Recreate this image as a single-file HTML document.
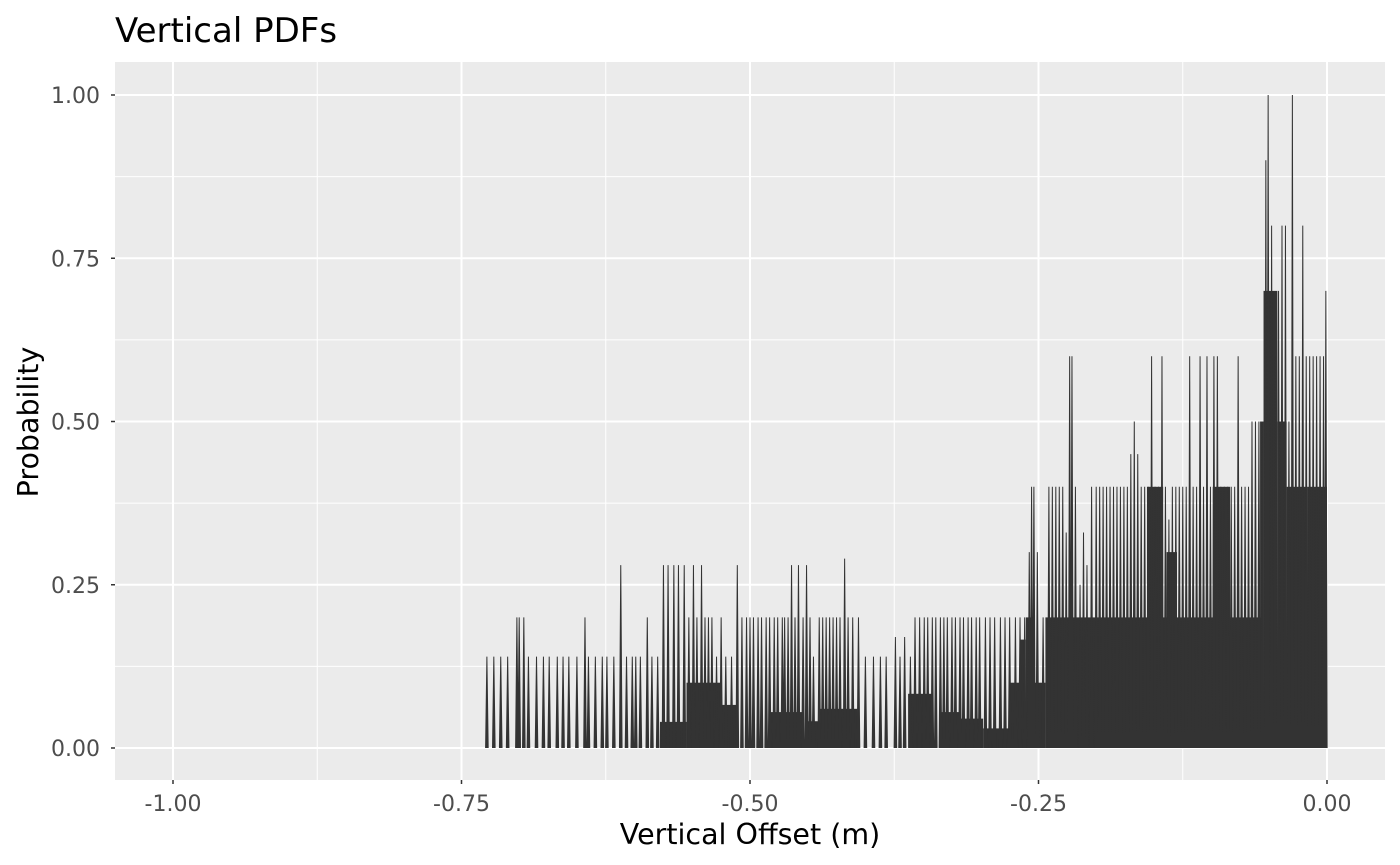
<!DOCTYPE html>
<html><head><meta charset="utf-8"><style>
html,body{margin:0;padding:0;background:#fff;}
svg{display:block;font-family:"DejaVu Sans","Liberation Sans",sans-serif;}
</style></head><body>
<svg id="chart" width="1400" height="865" viewBox="0 0 1400 865">
<text x="115" y="42" font-size="34" fill="#000">Vertical PDFs</text>
<rect x="115" y="62" width="1270" height="718" fill="#ebebeb"/>
<g id="grid"></g>
<g id="marks"></g>
<g id="axes"></g>
<text x="750" y="844" font-size="28.5" text-anchor="middle" fill="#000">Vertical Offset (m)</text>
<text transform="translate(38,422) rotate(-90)" font-size="28.5" text-anchor="middle" fill="#000">Probability</text>
</svg>
<script>
const xTicks = [-1.00, -0.75, -0.50, -0.25, 0.00];
const xTickLabels = ["-1.00", "-0.75", "-0.50", "-0.25", "0.00"];
const yTicks = [0, 0.25, 0.5, 0.75, 1.0];
const yTickLabels = ["0.00", "0.25", "0.50", "0.75", "1.00"];
const floorStart = [-0.578,-0.555,-0.526,-0.524,-0.483,-0.451,-0.441,-0.363,-0.335,-0.318,-0.298,-0.275,-0.266,-0.261,-0.255,-0.244,-0.218,-0.156,-0.139,-0.099,-0.058,-0.055,-0.043,-0.035,-0.017];
const floorEnd   = [-0.555,-0.526,-0.524,-0.511,-0.454,-0.441,-0.407,-0.341,-0.318,-0.298,-0.275,-0.266,-0.261,-0.255,-0.244,-0.218,-0.055,-0.142,-0.130,-0.084,-0.055,-0.043,-0.035,-0.017,0.000];
const floorProb  = [0.04,0.10,0.03,0.066,0.055,0.041,0.06,0.083,0.055,0.045,0.03,0.10,0.166,0.20,0.10,0.20,0.20,0.40,0.30,0.40,0.50,0.70,0.50,0.40,0.40];
const spikeX = [-0.728,-0.722,-0.716,-0.710,-0.702,-0.700,-0.696,-0.692,-0.685,-0.679,-0.674,-0.667,-0.662,-0.657,-0.650,-0.643,-0.640,-0.634,-0.628,-0.624,-0.618,-0.612,-0.607,-0.602,-0.599,-0.595,-0.589,-0.585,-0.580,-0.575,-0.571,-0.566,-0.562,-0.557,-0.553,-0.549,-0.546,-0.542,-0.539,-0.536,-0.533,-0.529,-0.525,-0.521,-0.516,-0.511,-0.507,-0.503,-0.500,-0.497,-0.493,-0.490,-0.486,-0.483,-0.479,-0.476,-0.472,-0.470,-0.467,-0.464,-0.461,-0.458,-0.454,-0.451,-0.448,-0.445,-0.440,-0.437,-0.434,-0.431,-0.428,-0.425,-0.422,-0.418,-0.415,-0.411,-0.406,-0.400,-0.393,-0.387,-0.382,-0.374,-0.370,-0.366,-0.361,-0.357,-0.353,-0.349,-0.346,-0.342,-0.339,-0.335,-0.332,-0.329,-0.325,-0.322,-0.318,-0.315,-0.311,-0.308,-0.304,-0.301,-0.296,-0.292,-0.288,-0.283,-0.279,-0.275,-0.270,-0.266,-0.262,-0.258,-0.256,
-0.254,-0.251,-0.246,-0.241,-0.238,-0.235,-0.232,-0.229,-0.226,-0.223,-0.221,-0.218,-0.214,-0.211,-0.208,-0.204,-0.200,-0.197,-0.194,-0.191,-0.188,-0.185,-0.182,-0.179,-0.176,-0.173,-0.170,-0.167,-0.164,-0.161,-0.158,-0.155,-0.152,-0.149,-0.146,-0.143,-0.140,-0.137,-0.134,-0.131,-0.128,-0.125,-0.122,-0.119,-0.116,-0.113,-0.110,-0.107,-0.104,-0.101,-0.098,-0.095,-0.092,-0.089,-0.086,-0.083,-0.080,-0.077,-0.074,-0.071,-0.068,-0.065,-0.062,-0.059,-0.056,-0.053,-0.051,-0.048,-0.045,-0.042,-0.039,-0.036,-0.033,-0.030,-0.027,-0.024,-0.021,-0.018,-0.015,-0.012,-0.009,-0.006,-0.003,-0.001];
const spikeProb = [0.14,0.14,0.14,0.14,0.2,0.2,0.2,0.14,0.14,0.14,0.14,0.14,0.14,0.14,0.14,0.2,0.14,0.14,0.14,0.14,0.14,0.28,0.14,0.14,0.14,0.14,0.2,0.14,0.14,0.28,0.28,0.28,0.28,0.28,0.2,0.28,0.2,0.28,0.2,0.2,0.2,0.14,0.2,0.14,0.14,0.28,0.2,0.2,0.2,0.2,0.2,0.2,0.2,0.2,0.2,0.2,0.2,0.2,0.2,0.28,0.2,0.28,0.2,0.28,0.2,0.14,0.2,0.2,0.2,0.2,0.2,0.2,0.2,0.29,0.2,0.2,0.2,0.14,0.14,0.14,0.14,0.17,0.14,0.17,0.14,0.2,0.2,0.2,0.2,0.2,0.2,0.2,0.2,0.2,0.2,0.2,0.2,0.2,0.2,0.2,0.2,0.2,0.2,0.2,0.2,0.2,0.2,0.2,0.2,0.2,0.2,0.3,0.4,
0.4,0.3,0.2,0.4,0.4,0.4,0.4,0.4,0.33,0.6,0.6,0.4,0.25,0.33,0.28,0.4,0.4,0.4,0.4,0.4,0.4,0.4,0.4,0.4,0.4,0.4,0.45,0.5,0.45,0.4,0.4,0.4,0.6,0.4,0.4,0.6,0.4,0.35,0.4,0.4,0.4,0.4,0.4,0.6,0.4,0.4,0.6,0.4,0.6,0.4,0.6,0.6,0.4,0.4,0.4,0.4,0.4,0.6,0.4,0.4,0.4,0.5,0.5,0.5,0.5,0.9,1.0,0.8,0.6,0.7,0.8,0.8,0.5,1.0,0.6,0.6,0.8,0.6,0.6,0.6,0.6,0.6,0.6,0.7];

const NS = "http://www.w3.org/2000/svg";
const L = 115, R = 1385, T = 62, B = 780;
function xs(v){ return 1327 + v * 1154; }
function ys(v){ return 748 - v * 653; }
function mk(tag, attrs, parent){ const e = document.createElementNS(NS, tag); for (const k in attrs) e.setAttribute(k, attrs[k]); parent.appendChild(e); return e; }

const grid = document.getElementById('grid');
const axes = document.getElementById('axes');
const marks = document.getElementById('marks');

for (let i = 0; i < yTicks.length - 1; i++) {
  const m = (yTicks[i] + yTicks[i+1]) / 2;
  const g = mk('line', {x1:L, x2:R, y1:ys(m), y2:ys(m), stroke:'#fff', 'stroke-width':1}, grid);
  
  
}
for (let i = 0; i < xTicks.length - 1; i++) {
  const m = (xTicks[i] + xTicks[i+1]) / 2;
  const g = mk('line', {x1:xs(m), x2:xs(m), y1:T, y2:B, stroke:'#fff', 'stroke-width':1}, grid);
  
  
}
yTicks.forEach((v, i) => {
  const g = mk('line', {x1:L, x2:R, y1:ys(v), y2:ys(v), stroke:'#fff', 'stroke-width':2}, grid);
  
  
  const t = mk('line', {x1:L-4, x2:L, y1:ys(v), y2:ys(v), stroke:'#333', 'stroke-width':1.5}, axes);
  
  
  const lb = mk('text', {x:L-15, y:ys(v)+8, 'font-size':22, fill:'#4d4d4d', 'text-anchor':'end'}, axes);
  lb.textContent = yTickLabels[i];
  
  
});
xTicks.forEach((v, i) => {
  const g = mk('line', {x1:xs(v), x2:xs(v), y1:T, y2:B, stroke:'#fff', 'stroke-width':2}, grid);
  
  
  const t = mk('line', {x1:xs(v), x2:xs(v), y1:B, y2:B+4, stroke:'#333', 'stroke-width':1.5}, axes);
  
  
  const lb = mk('text', {x:xs(v), y:811, 'font-size':22, fill:'#4d4d4d', 'text-anchor':'middle'}, axes);
  lb.textContent = xTickLabels[i];
  
  
});

floorStart.forEach((x0, i) => {
  const r = mk('rect', {x:xs(x0), y:ys(floorProb[i]), width:Math.max(0.5, xs(floorEnd[i]) - xs(x0)), height:ys(0) - ys(floorProb[i]), fill:'#333'}, marks);
  
  
});
let d = '';
spikeX.forEach((x, i) => {
  const px = xs(x), y0 = ys(0), yh = ys(spikeProb[i]);
  d += 'M' + (px-1.8) + ',' + y0 + 'L' + (px-0.5) + ',' + yh + 'L' + (px+0.5) + ',' + yh + 'L' + (px+1.8) + ',' + y0 + 'Z';
});
const sp = mk('path', {d:d, fill:'#333'}, marks);


</script>
</body></html>
